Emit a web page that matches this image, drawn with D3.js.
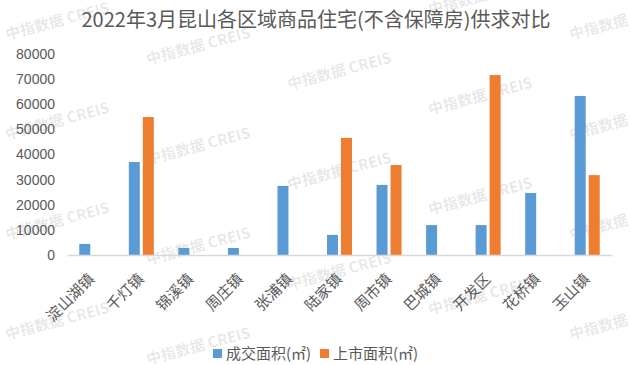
<!DOCTYPE html>
<html><head><meta charset="utf-8">
<script src="https://cdn.jsdelivr.net/npm/d3@7/dist/d3.min.js"></script>
<style>body{margin:0;background:#fff}svg{display:block}</style>
</head><body>
<svg id="c" width="630" height="365"></svg>
<script>
const categories = ["淀山湖镇","千灯镇","锦溪镇","周庄镇","张浦镇","陆家镇","周市镇","巴城镇","开发区","花桥镇","玉山镇"];
const seriesNames = ["成交面积(㎡)","上市面积(㎡)"];
const dealArea = [4400,37000,2800,2800,27500,8000,27900,11900,11900,24700,63300];
const supplyArea = [0,54900,0,0,0,46600,35800,0,71600,0,31800];
const yTicks = [0,10000,20000,30000,40000,50000,60000,70000,80000];
const colors = ["#5B9BD5","#ED7D31"];
const titleText = "2022年3月昆山各区域商品住宅(不含保障房)供求对比";
const watermark = "中指数据  CREIS";

(function(){
const svg = d3.select("#c");
const font = "'Noto Sans CJK SC','Noto Sans',sans-serif";

// watermark layer
const wm = svg.append("g");
for (let i = 0; i < 5; i++) {
  for (let j = -1; j < 4; j++) {
    const x = 7 + 141*i, yy = 40 + 25*i + 100*j;
    if (yy < 12 || yy > 372) continue;
    wm.append("text").attr("x", x).attr("y", yy)
      .attr("transform", `rotate(-15,${x},${yy})`)
      .attr("font-family", font).attr("font-size", 15).attr("font-weight", "bold")
      .attr("fill", "#000").attr("fill-opacity", 0.1)
      .text(watermark);
  }
}

const pLeft = 67, pRight = 612, pTop = 54, pBottom = 255;
const x0 = d3.scaleBand().domain(categories).range([pLeft, pRight]).paddingInner(0);
const x1 = d3.scaleBand().domain([0,1]).range([0, 25]).paddingInner(3/14);
const y = d3.scaleLinear().domain([0, 80000]).range([pBottom, pTop]);

svg.append("text").attr("x", 316).attr("y", 27).attr("text-anchor", "middle")
  .attr("font-family", font).attr("font-size", 20).attr("fill", "#595959").text(titleText);

// y axis labels
const yAxis = d3.axisLeft(y).tickValues(yTicks).tickSize(0).tickPadding(0).tickFormat(d3.format("d"));
const ya = svg.append("g").attr("transform", `translate(55,0)`).call(yAxis);
ya.select(".domain").remove();
ya.selectAll("text").attr("font-family", "'Liberation Sans',Arial,sans-serif").attr("font-size", 14).attr("fill", "#595959");

// bars
const data = categories.map((c, i) => ({c, v: [dealArea[i], supplyArea[i]]}));
const g = svg.append("g");
data.forEach(d => {
  d.v.forEach((v, s) => {
    if (v <= 0) return;
    g.append("rect")
      .attr("x", x0(d.c) + (x0.bandwidth() - 25)/2 + x1(s))
      .attr("width", x1.bandwidth())
      .attr("y", y(v)).attr("height", y(0) - y(v))
      .attr("fill", colors[s]);
  });
});

// x axis
const xAxis = d3.axisBottom(x0).tickSize(0).tickPadding(0);
const xa = svg.append("g").attr("transform", `translate(0,${pBottom})`).call(xAxis);
xa.select(".domain").attr("stroke", "#D9D9D9").attr("stroke-width", 1.5);
xa.selectAll("text")
  .attr("font-family", font).attr("font-size", 15).attr("fill", "#595959")
  .attr("text-anchor", "end").attr("dy", null)
  .attr("transform", "translate(3.5,25) rotate(-45)");

// legend
const lg = svg.append("g");
const items = [{x: 213, s: 0}, {x: 320, s: 1}];
items.forEach(it => {
  lg.append("rect").attr("x", it.x).attr("y", 349).attr("width", 9).attr("height", 9).attr("fill", colors[it.s]);
  lg.append("text").attr("x", it.x + 13).attr("y", 359)
    .attr("font-family", font).attr("font-size", 15).attr("fill", "#595959").text(seriesNames[it.s]);
});
})();
</script>
</body></html>
